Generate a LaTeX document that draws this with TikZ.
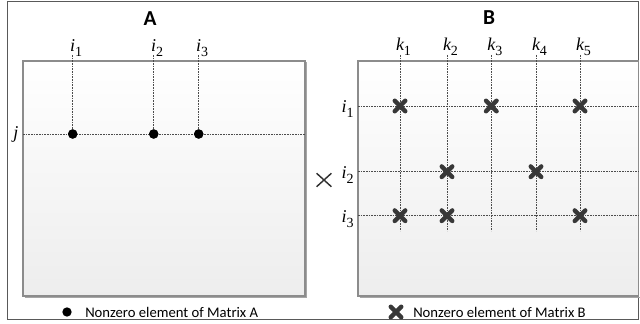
\documentclass[tikz,border=0pt]{standalone}
\usepackage{fontspec}
\setmainfont{Carlito}
\newfontfamily\idxfont{Liberation Serif}
\usetikzlibrary{shapes.misc}

% upright subscript that does not widen the index label
\newcommand\idxsub[1]{\rlap{\raisebox{-3.5pt}{\fontsize{10.5}{10.5}\selectfont\upshape #1}}}

\begin{document}
\begin{tikzpicture}[x=0.75pt,y=-0.75pt,
  frame/.style={draw=black!65, line width=0.75pt},
  matbox/.style={draw=black!45, line width=0.9pt, top color=white, bottom color=black!7},
  boxshadow/.style={draw=black!35, line width=1.2pt},
  guide/.style={draw=black!70, line width=0.5pt, dash pattern=on 1.2pt off 0.8pt},
  nzdot/.style={circle, fill=black, inner sep=0pt, minimum size=7pt},
  nzcross/.style={cross out, draw=black!78, line width=3.3pt, line cap=round, inner sep=0pt, minimum size=4.6pt},
  timessign/.style={cross out, draw=black!80, line width=1.1pt, inner sep=0pt, minimum width=10pt, minimum height=9pt},
  idx/.style={font=\idxfont\fontsize{13.5}{13.5}\selectfont\itshape, inner sep=0pt, anchor=base},
  title/.style={font=\fontsize{16}{16}\selectfont\bfseries, inner sep=0pt},
  legend/.style={font=\fontsize{11}{13}\selectfont, anchor=west, inner sep=0pt}]

\useasboundingbox (0,0) rectangle (640,324);

% outer frame
\draw[frame] (7,2) rectangle (638.5,319.5);

% matrix boxes with a soft shadow
\draw[boxshadow] (24.5,297.5) -- (306.5,297.5) -- (306.5,62.5);
\draw[boxshadow] (359.5,297.5) -- (639.5,297.5);
\path[matbox] (23,61) rectangle (305,296);
\path[matbox] (358,61) rectangle (638.5,296);

% titles
\node[title] (tA) at (150,19) {A};
\node[title] (tB) at (489,18) {B};

% ---------------- matrix A ----------------
\coordinate (jl) at (23,134);
\coordinate (jr) at (305,134);
\draw[guide] (jl) -- (jr);
\node[idx] (jlab) at (16,139) {j};

\foreach \n/\x in {1/72.7, 2/153.7, 3/198.7}{
  \coordinate (atop\n) at (\x,55);
  \node[nzdot] (adot\n) at (\x,134) {};
  \draw[guide] (atop\n) -- (adot\n);
  \node[idx] (ailab\n) at (\x,52) {i\idxsub{\n}};
}
\foreach \n in {1,2,3}{ \node[nzdot] at (adot\n) {}; }

% ---------------- matrix B ----------------
\foreach \n/\y in {1/106, 2/171.7, 3/215.7}{
  \coordinate (bl\n) at (358,\y);
  \coordinate (br\n) at (638.5,\y);
  \draw[guide] (bl\n) -- (br\n);
  \node[idx] (bilab\n) at (344,\y+7) {i\idxsub{\n}};
}
\foreach \n/\x in {1/400, 2/447, 3/491.3, 4/536, 5/580}{
  \coordinate (bt\n) at (\x,55);
  \coordinate (bb\n) at (\x,231);
  \draw[guide] (bt\n) -- (bb\n);
  \node[idx] (bklab\n) at (\x,51) {k\idxsub{\n}};
}

% nonzero entries of B
\node[nzcross] (c11) at (400,106) {};
\node[nzcross] (c13) at (491.3,106) {};
\node[nzcross] (c15) at (580,106) {};
\node[nzcross] (c22) at (447,171.7) {};
\node[nzcross] (c24) at (536,171.7) {};
\node[nzcross] (c31) at (400,215.7) {};
\node[nzcross] (c32) at (447,215.7) {};
\node[nzcross] (c35) at (580,215.7) {};

% multiplication sign
\node[timessign] (times) at (324,180) {};

% legend
\node[nzdot] (legdot) at (67,312) {};
\node[legend] (legA) at (85,312) {Nonzero element of Matrix A};
\node[nzcross] (legcross) at (396,312) {};
\node[legend] (legB) at (413,312) {Nonzero element of Matrix B};
\end{tikzpicture}
\end{document}
